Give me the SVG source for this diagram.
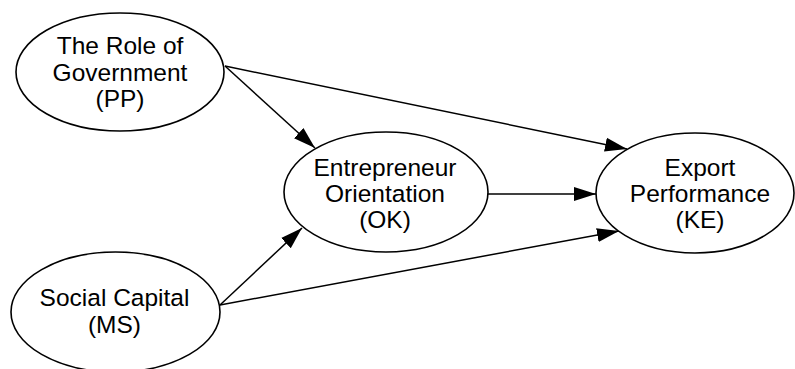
<svg xmlns="http://www.w3.org/2000/svg" width="795" height="369" viewBox="0 0 795 369">
<style>
.node ellipse{fill:#fff;stroke:#000;stroke-width:1.6}
.node text{font-family:"Liberation Sans",Arial,sans-serif;font-size:24.5px;fill:#000;text-anchor:middle}
.edge{stroke:#000;stroke-width:1.5;fill:none;marker-end:url(#arr)}
</style>
<defs>
<marker id="arr" markerUnits="userSpaceOnUse" markerWidth="24" markerHeight="16" refX="22" refY="7.5" orient="auto">
<path d="M0,0.5 L22,7.5 L0,14.5 z" fill="#000"/>
</marker>
</defs>
<rect width="795" height="369" fill="#fff"/>
<g id="connectors">
<line class="edge" x1="225" y1="66" x2="315" y2="148"/>
<line class="edge" x1="225" y1="66" x2="627" y2="149"/>
<line class="edge" x1="488" y1="194" x2="596" y2="194"/>
<line class="edge" x1="220" y1="305" x2="302" y2="228"/>
<line class="edge" x1="220" y1="305" x2="619" y2="231"/>
</g>
<g id="PP" class="node">
<ellipse cx="120" cy="72" rx="104" ry="59"/>
<text x="120" y="54">The Role of</text>
<text x="120" y="80.5">Government</text>
<text x="120" y="107">(PP)</text>
</g>
<g id="OK" class="node">
<ellipse cx="386" cy="192" rx="102" ry="60"/>
<text x="385" y="176">Entrepreneur</text>
<text x="385" y="202">Orientation</text>
<text x="385" y="228">(OK)</text>
</g>
<g id="KE" class="node">
<ellipse cx="695" cy="193" rx="99" ry="60"/>
<text x="700" y="176">Export</text>
<text x="700" y="202">Performance</text>
<text x="700" y="228">(KE)</text>
</g>
<g id="MS" class="node">
<ellipse cx="115.5" cy="312" rx="104.5" ry="60"/>
<text x="114.5" y="306">Social Capital</text>
<text x="114.5" y="333">(MS)</text>
</g>
</svg>
